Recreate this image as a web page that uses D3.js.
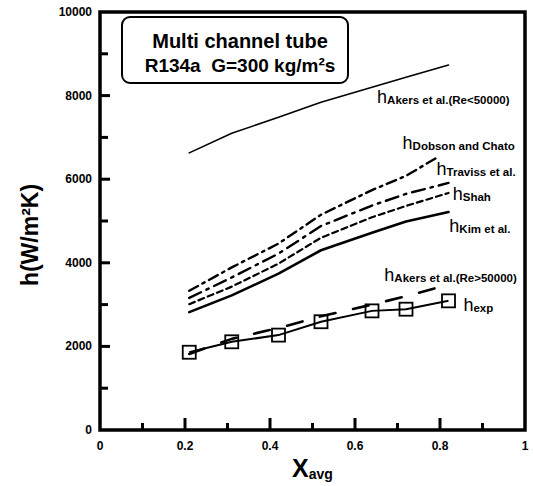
<!DOCTYPE html>
<html>
<head>
<meta charset="utf-8">
<script src="https://cdn.jsdelivr.net/npm/d3@7/dist/d3.min.js"></script>
<style>
  body { margin: 0; background: #fff; }
  svg { font-family: "Liberation Sans", Arial, sans-serif; }
  .tick-label { font-size: 12px; font-weight: bold; }
</style>
</head>
<body>
<div class="chart"></div>
<script>
// quality moyenne (x) et coefficients h (W/m2K)
var xExp      = [0.21, 0.31, 0.42, 0.52, 0.64, 0.72, 0.82];
var hExp      = [1860, 2110, 2270, 2590, 2850, 2890, 3090];
var hAkersLo  = [1820, 2180, 2440, 2720, 3000, 3200, 3480];   // Re>50000
var hAkersHi  = [6630, 7100, 7480, 7840, 8200, 8440, 8730];   // Re<50000
var hKim      = [2820, 3220, 3740, 4300, 4720, 4990, 5215];
var hShah     = [3010, 3430, 3980, 4600, 5090, 5360, 5670];
var hTraviss  = [3160, 3650, 4220, 4880, 5370, 5650, 5910];
var xDobson   = [0.21, 0.31, 0.42, 0.52, 0.64, 0.72, 0.79];
var hDobson   = [3330, 3890, 4460, 5150, 5740, 6080, 6500];

var xTicks = [0, 0.2, 0.4, 0.6, 0.8, 1];
var xTickLabels = ["0", "0.2", "0.4", "0.6", "0.8", "1"];
var yTicks = [0, 2000, 4000, 6000, 8000, 10000];

// labels des courbes (sub = indice)
var labelSubs = ["Akers et al.(Re<50000)", "Dobson and Chato", "Traviss et al.", "Shah", "Kim et al.", "Akers et al.(Re>50000)", "exp"];
var labelX    = [0.652, 0.712, 0.792, 0.830, 0.822, 0.669, 0.855];
var labelY    = [7820, 6715, 6100, 5500, 4740, 3565, 2850];

var W = 533, H = 486;
var margin = {top: 12, right: 8, bottom: 56, left: 100},
    width = W - margin.left - margin.right,
    height = H - margin.top - margin.bottom;

var x = d3.scaleLinear().domain([0, 1]).range([0, width]);
var y = d3.scaleLinear().domain([0, 10000]).range([height, 0]);

var svg = d3.select(".chart").append("svg")
    .attr("width", W).attr("height", H)
  .append("g")
    .attr("transform", "translate(" + margin.left + "," + margin.top + ")");

function zip(xs, ys) { return xs.map(function(v, i) { return [v, ys[i]]; }); }

var line = d3.line()
    .x(function(d) { return x(d[0]); })
    .y(function(d) { return y(d[1]); });

// courbes
var series = [
  {data: zip(xExp, hAkersHi), w: 1.6, dash: null},
  {data: zip(xDobson, hDobson), w: 2.4, dash: "10,5,2.5,5"},
  {data: zip(xExp, hTraviss), w: 2.4, dash: "13,6,2.5,6"},
  {data: zip(xExp, hShah), w: 2.2, dash: "6,4"},
  {data: zip(xExp, hKim), w: 2.6, dash: null},
  {data: zip(xExp, hAkersLo), w: 2.6, dash: "16,18"}
];

series.forEach(function(s) {
  svg.append("path")
    .datum(s.data)
    .attr("fill", "none")
    .attr("stroke", "#000")
    .attr("stroke-width", s.w)
    .attr("stroke-dasharray", s.dash)
    .attr("stroke-linecap", "round")
    .attr("stroke-linejoin", "round")
    .attr("d", line);
});

// experimental
svg.append("path")
  .datum(zip(xExp, hExp))
  .attr("fill", "none")
  .attr("stroke", "#000")
  .attr("stroke-width", 2)
  .attr("d", line);

svg.selectAll(".sq")
  .data(zip(xExp, hExp))
  .enter().append("rect")
  .attr("class", "sq")
  .attr("x", function(d) { return x(d[0]) - 6.5; })
  .attr("y", function(d) { return y(d[1]) - 6.5; })
  .attr("width", 13).attr("height", 13)
  .attr("fill", "none")
  .attr("stroke", "#000")
  .attr("stroke-width", 1.8);

// ticks internes
var xMinor = d3.range(1, 10).map(function(i) { return i / 10; });
svg.selectAll(".xt")
  .data(xMinor)
  .enter().append("line")
  .attr("x1", function(d) { return x(d); })
  .attr("x2", function(d) { return x(d); })
  .attr("y1", height)
  .attr("y2", function(d, i) { return height - (i % 2 ? 12 : 7); })
  .attr("stroke", "#000").attr("stroke-width", 3);

var yMinor = d3.range(1, 10).map(function(i) { return i * 1000; });
svg.selectAll(".yt")
  .data(yMinor)
  .enter().append("line")
  .attr("x1", 0)
  .attr("x2", function(d, i) { return i % 2 ? 10 : 8; })
  .attr("y1", function(d) { return y(d); })
  .attr("y2", function(d) { return y(d); })
  .attr("stroke", "#000").attr("stroke-width", 3);

// cadre
svg.append("rect")
  .attr("x", 0).attr("y", 0)
  .attr("width", width).attr("height", height)
  .attr("fill", "none")
  .attr("stroke", "#000")
  .attr("stroke-width", 3.5);

// labels des ticks
svg.selectAll(".xl")
  .data(xTicks)
  .enter().append("text")
  .attr("class", "tick-label")
  .attr("x", function(d) { return x(d); })
  .attr("y", height + 20)
  .attr("text-anchor", "middle")
  .text(function(d, i) { return xTickLabels[i]; });

svg.selectAll(".yl")
  .data(yTicks)
  .enter().append("text")
  .attr("class", "tick-label")
  .attr("x", -8)
  .attr("y", function(d) { return y(d) + 4; })
  .attr("text-anchor", "end")
  .text(function(d) { return d; });

// titres des axes
var xt = svg.append("text")
  .attr("x", x(0.5))
  .attr("y", height + 47)
  .attr("text-anchor", "middle")
  .attr("font-weight", "bold");
xt.append("tspan").attr("font-size", "25px").text("X");
xt.append("tspan").attr("font-size", "14px").attr("dy", 2).text("avg");

svg.append("text")
  .attr("transform", "translate(-62," + (height / 2 + 14) + ") rotate(-90)")
  .attr("text-anchor", "middle")
  .attr("font-size", "23px")
  .attr("font-weight", "bold")
  .text("h(W/m²K)");

// boite titre
svg.append("rect")
  .attr("x", 22).attr("y", 5)
  .attr("width", 226).attr("height", 66)
  .attr("rx", 8)
  .attr("fill", "#fff")
  .attr("stroke", "#000")
  .attr("stroke-width", 2);

svg.append("text")
  .attr("x", 140).attr("y", 36)
  .attr("text-anchor", "middle")
  .attr("font-size", "20px").attr("font-weight", "bold")
  .text("Multi channel tube");
svg.append("text")
  .attr("x", 140).attr("y", 60)
  .attr("text-anchor", "middle")
  .attr("font-size", "19px").attr("font-weight", "bold")
  .attr("xml:space", "preserve")
  .text("R134a  G=300 kg/m²s");

// labels h
labelSubs.forEach(function(s, i) {
  var t = svg.append("text")
    .attr("x", x(labelX[i]))
    .attr("y", y(labelY[i]));
  t.append("tspan").attr("font-size", "18px").text("h");
  t.append("tspan")
    .attr("font-size", "11.5px")
    .attr("font-weight", "bold")
    .attr("dy", 1)
    .text(s);
});
</script>
</body>
</html>
